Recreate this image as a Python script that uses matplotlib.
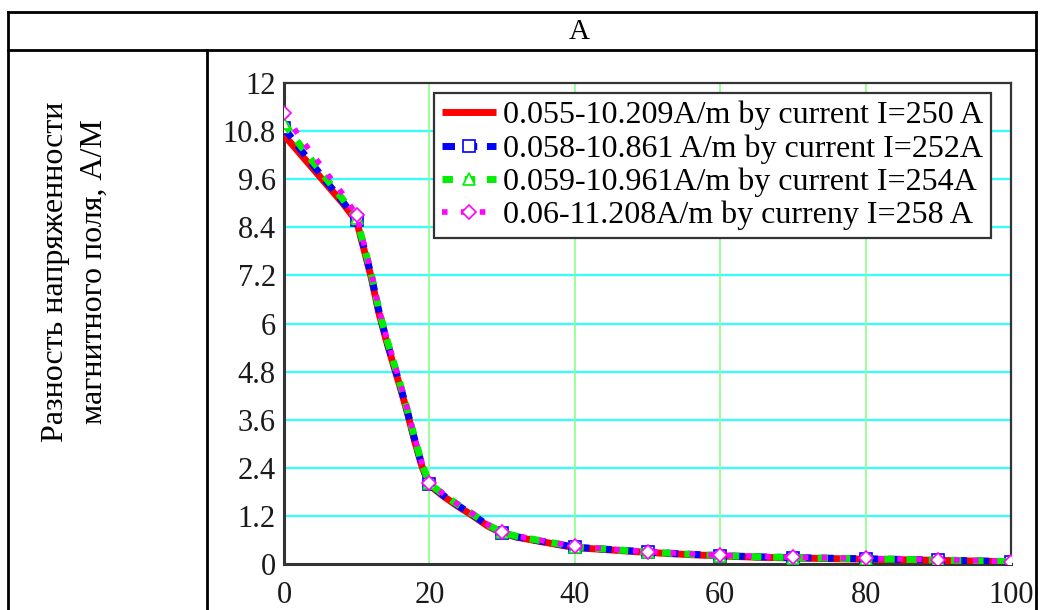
import matplotlib
matplotlib.use("Agg")
import matplotlib.pyplot as plt
from matplotlib.lines import Line2D

# ---- data ----
x = [0, 2, 4, 6, 8, 10, 11, 12, 13, 14, 15, 16, 17, 18, 19, 20,
     22, 24, 26, 28, 30, 32, 35, 40, 45, 50, 55, 60, 65, 70, 80, 90, 100]
y_250 = [10.70, 10.28, 9.86, 9.44, 9.02, 8.55, 7.85, 7.15, 6.30, 5.62, 5.00, 4.40, 3.75, 3.05, 2.42, 1.97,
         1.68, 1.43, 1.20, 0.95, 0.77, 0.67, 0.57, 0.41, 0.35, 0.29, 0.24, 0.20, 0.17, 0.15, 0.12, 0.09, 0.055]
y_252 = [10.88, 10.40, 9.95, 9.50, 9.06, 8.58, 7.90, 7.20, 6.35, 5.66, 5.04, 4.44, 3.79, 3.09, 2.45, 1.99,
         1.70, 1.45, 1.22, 0.97, 0.78, 0.68, 0.58, 0.42, 0.36, 0.30, 0.25, 0.21, 0.18, 0.16, 0.13, 0.10, 0.058]
y_254 = [11.00, 10.50, 10.03, 9.57, 9.12, 8.62, 7.93, 7.24, 6.38, 5.70, 5.08, 4.48, 3.82, 3.12, 2.48, 2.01,
         1.72, 1.47, 1.24, 0.98, 0.79, 0.69, 0.59, 0.43, 0.36, 0.30, 0.25, 0.21, 0.18, 0.16, 0.13, 0.10, 0.059]
y_258 = [11.25, 10.70, 10.20, 9.72, 9.25, 8.70, 7.98, 7.28, 6.42, 5.73, 5.11, 4.51, 3.85, 3.15, 2.50, 2.03,
         1.74, 1.48, 1.25, 0.99, 0.80, 0.70, 0.60, 0.44, 0.37, 0.31, 0.26, 0.22, 0.19, 0.17, 0.14, 0.11, 0.06]
labels = ["0.055-10.209A/m by current I=250 A",
          "0.058-10.861 A/m by current I=252A",
          "0.059-10.961A/m by current I=254A",
          "0.06-11.208A/m by curreny I=258 A"]
yticks = [0, 1.2, 2.4, 3.6, 4.8, 6, 7.2, 8.4, 9.6, 10.8, 12]
ytick_labels = ["0", "1.2", "2.4", "3.6", "4.8", "6", "7.2", "8.4", "9.6", "10.8", "12"]
xticks = [0, 20, 40, 60, 80, 100]
header = "A"
ylabel = "Разность напряженности\nмагнитного поля, А/М"

W, H = 1043, 610
SERIF = ['Liberation Serif', 'DejaVu Serif']
plt.rcParams['font.family'] = SERIF
fig = plt.figure(figsize=(W / 100, H / 100), dpi=100)

def fx(px):
    return px / W

def fy(py):
    return 1 - py / H

ax = fig.add_axes([fx(284), fy(564), fx(1011) - fx(284), fy(83) - fy(564)])

mark_idx = [i for i, v in enumerate(x) if v % 10 == 0]

ax.plot(x, y_250, color='#ff0000', lw=5, solid_capstyle='butt',
        marker='x', ms=5, mew=1, markevery=mark_idx, label=labels[0], zorder=3)
ax.plot(x, y_252, color='#0000ff', lw=5, dashes=(1.8, 1.4),
        marker='s', ms=9, mfc='white', mec='#0000ff', mew=1.2, markevery=mark_idx,
        label=labels[1], zorder=4)
ax.plot(x, y_254, color='#00ee00', lw=5, dashes=(1.5, 1.7),
        marker='^', ms=9, mfc='white', mec='#00ee00', mew=1.2, markevery=mark_idx,
        label=labels[2], zorder=5)
ax.plot(x, y_258, color='#ff00ff', lw=4, dashes=(1.0, 2.4),
        marker='D', ms=7, mfc='white', mec='#ff00ff', mew=1.2, markevery=mark_idx,
        label=labels[3], zorder=6)

ax.set_xlim(0, 100)
ax.set_ylim(0, 12)
ax.set_yticks(yticks)
ax.set_yticklabels(ytick_labels)
ax.set_xticks(xticks)
ax.tick_params(length=0, labelsize=22, pad=6, colors='#1a1a1a')
ax.tick_params(axis='x', pad=12)

for t in yticks[1:-1]:
    ax.axhline(t, color='#33ffff', lw=1.6, zorder=1)
for t in xticks[1:-1]:
    ax.axvline(t, color='#88ff88', lw=1.2, zorder=1)

for s in ax.spines.values():
    s.set_color('#333333')
    s.set_linewidth(1.6)
ax.spines['left'].set_linewidth(2.2)
ax.spines['bottom'].set_linewidth(2.2)

leg = ax.legend(loc='upper left', bbox_to_anchor=((434 - 284) / 727, (564 - 93) / 481),
                fontsize=23, frameon=True, fancybox=False, edgecolor='#333333',
                handlelength=1.7, handletextpad=0.2, labelspacing=0.12,
                borderpad=0.25, borderaxespad=0, framealpha=1)
leg.get_frame().set_linewidth(1.6)

# table lines
lw_t = 2.0
def hline(py, px0, px1):
    fig.add_artist(Line2D([fx(px0), fx(px1)], [fy(py), fy(py)], color='black', lw=lw_t))
def vline(px, py0, py1):
    fig.add_artist(Line2D([fx(px), fx(px)], [fy(py0), fy(py1)], color='black', lw=lw_t))

hline(12, 8, 1036)
hline(50, 8, 1036)
vline(8, 12, 610)
vline(207, 50, 610)
vline(1036, 12, 610)

fig.text(fx(579), fy(32), header, ha='center', va='center', fontsize=21, family=SERIF)
fig.text(fx(75), fy(272), ylabel, ha='center', va='center', rotation=90,
         fontsize=23, multialignment='center', linespacing=1.45, family=SERIF)

fig.savefig("out.png", dpi=100)
